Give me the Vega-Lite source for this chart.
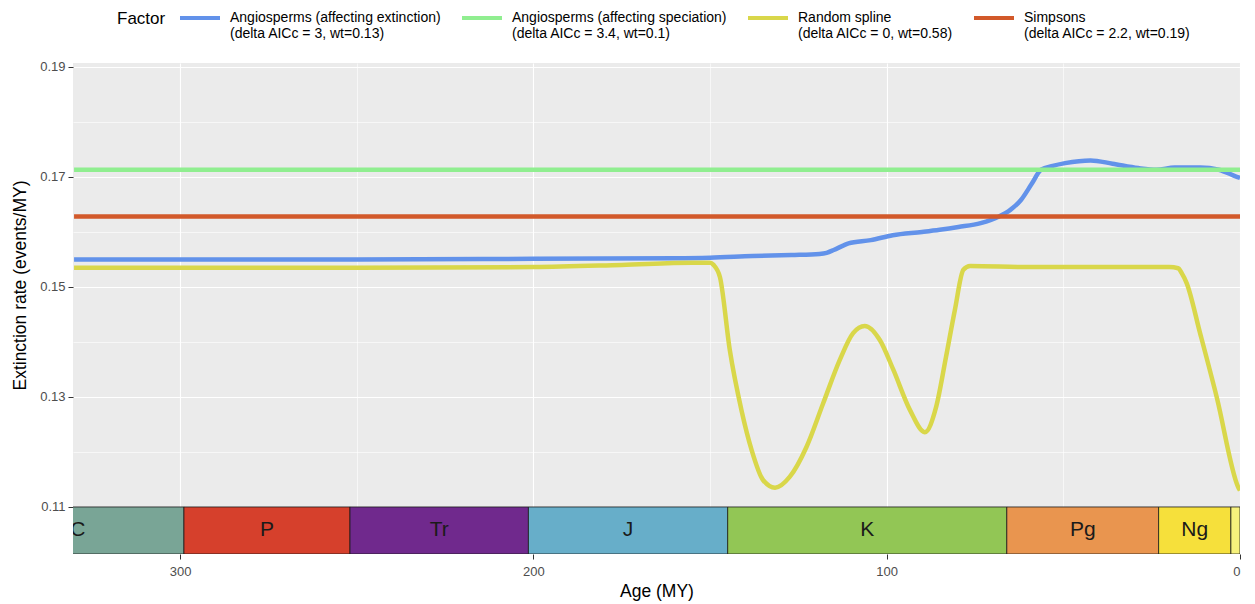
{
  "$schema": "https://vega.github.io/schema/vega-lite/v6.json",
  "width": 1167,
  "height": 491,
  "autosize": {"type": "none"},
  "padding": {"left": 73, "top": 63, "right": 15, "bottom": 50},
  "background": "white",
  "config": {
    "font": "Liberation Sans",
    "view": {"fill": "#ebebeb", "stroke": null},
    "axis": {"domain": false, "labelColor": "#4d4d4d", "labelFontSize": 13, "tickColor": "#333333", "tickSize": 5, "titleFontSize": 17.5, "titleFontWeight": "normal", "titleColor": "black", "gridColor": "white"}
  },
  "datasets": {
    "lines": [
      {"f": "A", "age": 330, "rate": 0.1550},
      {"f": "A", "age": 250, "rate": 0.1550},
      {"f": "A", "age": 200, "rate": 0.1551},
      {"f": "A", "age": 160, "rate": 0.1552},
      {"f": "A", "age": 150, "rate": 0.1553},
      {"f": "A", "age": 138, "rate": 0.1556},
      {"f": "A", "age": 127, "rate": 0.1558},
      {"f": "A", "age": 119, "rate": 0.1560},
      {"f": "A", "age": 117, "rate": 0.1562},
      {"f": "A", "age": 115, "rate": 0.1567},
      {"f": "A", "age": 112, "rate": 0.1576},
      {"f": "A", "age": 110.8, "rate": 0.1579},
      {"f": "A", "age": 104.5, "rate": 0.1585},
      {"f": "A", "age": 98.3, "rate": 0.1594},
      {"f": "A", "age": 90, "rate": 0.1600},
      {"f": "A", "age": 85, "rate": 0.1604},
      {"f": "A", "age": 79.7, "rate": 0.1609},
      {"f": "A", "age": 73.4, "rate": 0.1616},
      {"f": "A", "age": 68.2, "rate": 0.1628},
      {"f": "A", "age": 65, "rate": 0.1640},
      {"f": "A", "age": 62, "rate": 0.1658},
      {"f": "A", "age": 58.9, "rate": 0.1688},
      {"f": "A", "age": 56.3, "rate": 0.1713},
      {"f": "A", "age": 53, "rate": 0.1720},
      {"f": "A", "age": 49.5, "rate": 0.1725},
      {"f": "A", "age": 42.3, "rate": 0.1730},
      {"f": "A", "age": 36.1, "rate": 0.1724},
      {"f": "A", "age": 28.8, "rate": 0.1716},
      {"f": "A", "age": 23.6, "rate": 0.1713},
      {"f": "A", "age": 18.5, "rate": 0.1717},
      {"f": "A", "age": 11.2, "rate": 0.1717},
      {"f": "A", "age": 6, "rate": 0.1713},
      {"f": "A", "age": 0.9, "rate": 0.1700},
      {"f": "A", "age": 0, "rate": 0.1698},
      {"f": "B", "age": 330, "rate": 0.1713},
      {"f": "B", "age": 0, "rate": 0.1713},
      {"f": "C", "age": 330, "rate": 0.1535},
      {"f": "C", "age": 250, "rate": 0.1535},
      {"f": "C", "age": 200, "rate": 0.1536},
      {"f": "C", "age": 175, "rate": 0.1540},
      {"f": "C", "age": 155, "rate": 0.1544},
      {"f": "C", "age": 150, "rate": 0.1544},
      {"f": "C", "age": 149, "rate": 0.1540},
      {"f": "C", "age": 147.2, "rate": 0.1518},
      {"f": "C", "age": 144.4, "rate": 0.1385},
      {"f": "C", "age": 141.1, "rate": 0.1276},
      {"f": "C", "age": 138.2, "rate": 0.1203},
      {"f": "C", "age": 135, "rate": 0.1149},
      {"f": "C", "age": 131.6, "rate": 0.1135},
      {"f": "C", "age": 127.4, "rate": 0.1155},
      {"f": "C", "age": 122.7, "rate": 0.1209},
      {"f": "C", "age": 118, "rate": 0.1288},
      {"f": "C", "age": 113.3, "rate": 0.1367},
      {"f": "C", "age": 109.5, "rate": 0.1416},
      {"f": "C", "age": 106.2, "rate": 0.1429},
      {"f": "C", "age": 101.9, "rate": 0.1403},
      {"f": "C", "age": 98.1, "rate": 0.1349},
      {"f": "C", "age": 93.4, "rate": 0.1276},
      {"f": "C", "age": 89.2, "rate": 0.1236},
      {"f": "C", "age": 86, "rate": 0.1282},
      {"f": "C", "age": 83.2, "rate": 0.1373},
      {"f": "C", "age": 80.7, "rate": 0.1458},
      {"f": "C", "age": 78.3, "rate": 0.1531},
      {"f": "C", "age": 76.4, "rate": 0.1538},
      {"f": "C", "age": 60, "rate": 0.1536},
      {"f": "C", "age": 40, "rate": 0.1536},
      {"f": "C", "age": 20, "rate": 0.1536},
      {"f": "C", "age": 17.5, "rate": 0.1534},
      {"f": "C", "age": 16.5, "rate": 0.1525},
      {"f": "C", "age": 15.1, "rate": 0.1507},
      {"f": "C", "age": 11.3, "rate": 0.1416},
      {"f": "C", "age": 6.6, "rate": 0.1300},
      {"f": "C", "age": 0.5, "rate": 0.1136},
      {"f": "C", "age": 0, "rate": 0.1130},
      {"f": "D", "age": 330, "rate": 0.1628},
      {"f": "D", "age": 0, "rate": 0.1628}
    ],
    "periods": [
      {"p": "C", "start": 358.9, "end": 298.9},
      {"p": "P", "start": 298.9, "end": 251.9},
      {"p": "Tr", "start": 251.9, "end": 201.4},
      {"p": "J", "start": 201.4, "end": 145},
      {"p": "K", "start": 145, "end": 66},
      {"p": "Pg", "start": 66, "end": 23.03},
      {"p": "Ng", "start": 23.03, "end": 2.58},
      {"p": "Q", "start": 2.58, "end": 0}
    ]
  },
  "layer": [
    {
      "data": {"name": "lines"},
      "mark": {"type": "line", "strokeWidth": 4.5, "interpolate": "monotone", "clip": true},
      "encoding": {
        "x": {
          "field": "age", "type": "quantitative",
          "scale": {"domain": [330.3, 0], "nice": false, "zero": false},
          "axis": {
            "title": "Age (MY)", "values": [0, 50, 100, 150, 200, 250, 300],
            "labelExpr": "datum.value % 100 === 0 ? datum.label : ''",
            "tickOpacity": {"condition": {"test": "datum.value % 100 === 0", "value": 1}, "value": 0},
            "gridWidth": {"condition": {"test": "datum.value % 100 === 0", "value": 1.1}, "value": 0.6},
            "labelPadding": 6, "titlePadding": 4
          }
        },
        "y": {
          "field": "rate", "type": "quantitative",
          "scale": {"domain": [0.10145, 0.1907], "nice": false, "zero": false},
          "axis": {
            "title": "Extinction rate (events/MY)",
            "values": [0.11, 0.12, 0.13, 0.14, 0.15, 0.16, 0.17, 0.18, 0.19],
            "labelExpr": "(round(datum.value * 100) % 2 === 1) ? format(datum.value, '.2f') : ''",
            "tickOpacity": {"condition": {"test": "round(datum.value * 100) % 2 === 1", "value": 1}, "value": 0},
            "gridWidth": {"condition": {"test": "round(datum.value * 100) % 2 === 1", "value": 1.1}, "value": 0.6},
            "labelPadding": 3, "titlePadding": 10, "titleY": 222
          }
        },
        "color": {
          "field": "f", "type": "nominal",
          "scale": {"domain": ["A", "B", "C", "D"], "range": ["#6292ea", "#90ee90", "#d9d74a", "#d2592a"]},
          "legend": {
            "title": "Factor", "orient": "none", "legendX": 44, "legendY": -67,
            "direction": "horizontal", "titleOrient": "left", "titleFontSize": 17, "titleFontWeight": "normal", "titleColor": "black",
            "titleAnchor": "middle", "titleBaseline": "middle", "titlePadding": 12,
            "symbolType": "stroke", "symbolStrokeWidth": 4, "symbolSize": 1600,
            "labelFontSize": 14, "labelColor": "black", "columnPadding": 13, "labelOffset": 8, "labelLimit": 400,
            "labelExpr": "datum.label == 'A' ? ['Angiosperms (affecting extinction)', '(delta AICc = 3, wt=0.13)'] : datum.label == 'B' ? ['Angiosperms (affecting speciation)', '(delta AICc = 3.4, wt=0.1)'] : datum.label == 'C' ? ['Random spline', '(delta AICc = 0, wt=0.58)'] : ['Simpsons', '(delta AICc = 2.2, wt=0.19)']"
          }
        }
      }
    },
    {
      "data": {"name": "periods"},
      "mark": {"type": "rect", "stroke": "#1a1a1a", "strokeWidth": 0.8, "clip": true},
      "encoding": {
        "x": {"field": "start", "type": "quantitative"},
        "x2": {"field": "end"},
        "y": {"datum": 0.10145},
        "y2": {"datum": 0.11},
        "color": {
          "field": "p", "type": "nominal", "legend": null,
          "scale": {"domain": ["C", "P", "Tr", "J", "K", "Pg", "Ng", "Q"], "range": ["#79a596", "#d6402c", "#70298d", "#67aec9", "#92c655", "#e9954f", "#f6e03b", "#f7f27c"]}
        }
      }
    },
    {
      "data": {"name": "periods"},
      "transform": [{"filter": "datum.p !== 'Q'"}, {"calculate": "(datum.start + datum.end) / 2", "as": "mid"}],
      "mark": {"type": "text", "fontSize": 21, "color": "#1a1a1a", "clip": true, "baseline": "middle"},
      "encoding": {
        "x": {"field": "mid", "type": "quantitative"},
        "y": {"datum": 0.10575},
        "text": {"field": "p"}
      }
    }
  ],
  "resolve": {"scale": {"color": "independent"}}
}
